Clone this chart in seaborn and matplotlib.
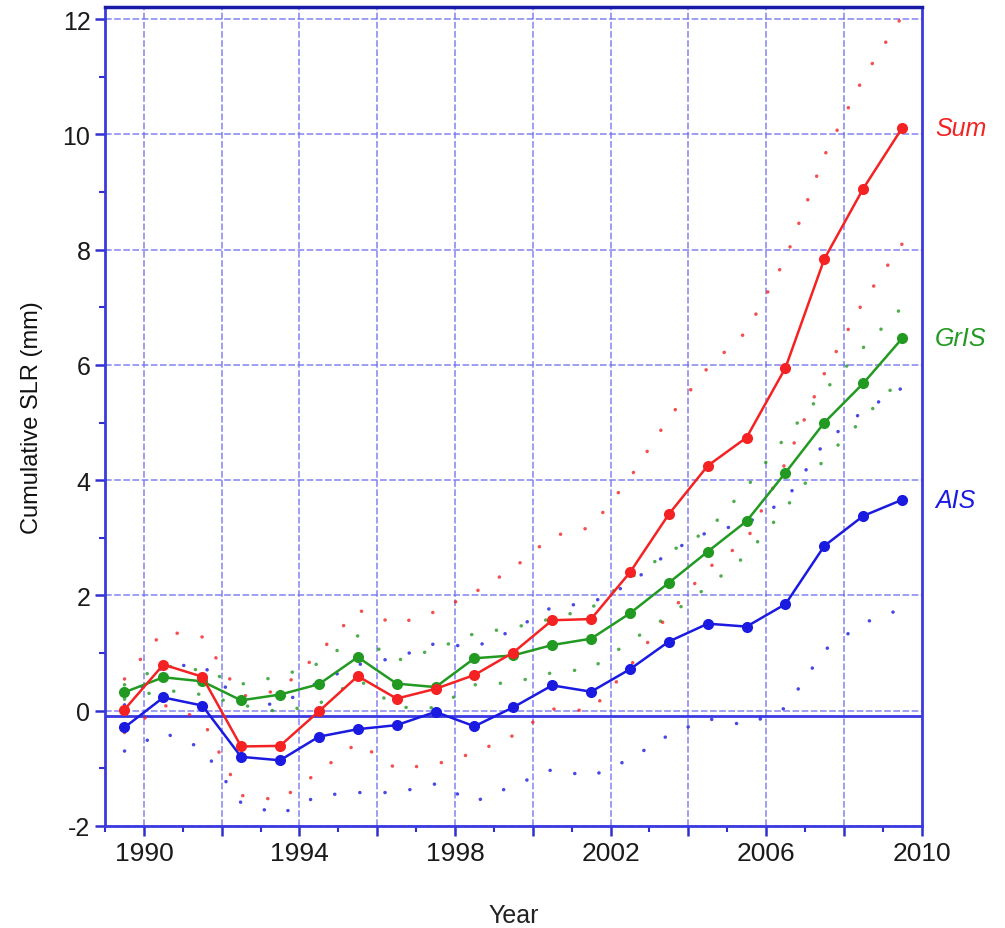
import matplotlib
matplotlib.use("Agg")
import matplotlib.pyplot as plt
from matplotlib.ticker import MultipleLocator, FixedLocator
import seaborn as sns
import pandas as pd

years = [1989.5, 1990.5, 1991.5, 1992.5, 1993.5, 1994.5, 1995.5, 1996.5, 1997.5, 1998.5,
         1999.5, 2000.5, 2001.5, 2002.5, 2003.5, 2004.5, 2005.5, 2006.5, 2007.5, 2008.5, 2009.5]

sum_vals = [0.02, 0.80, 0.59, -0.62, -0.61, -0.01, 0.60, 0.21, 0.38, 0.62, 1.01,
            1.57, 1.59, 2.40, 3.41, 4.25, 4.74, 5.95, 7.84, 9.06, 10.11]
gris_vals = [0.32, 0.58, 0.51, 0.18, 0.28, 0.46, 0.93, 0.47, 0.41, 0.91, 0.96,
             1.14, 1.25, 1.69, 2.22, 2.76, 3.29, 4.13, 5.00, 5.68, 6.46]
ais_vals = [-0.29, 0.23, 0.09, -0.80, -0.86, -0.45, -0.32, -0.25, -0.02, -0.27, 0.06,
            0.44, 0.33, 0.72, 1.20, 1.51, 1.46, 1.85, 2.86, 3.38, 3.66]

sum_upper = [0.55, 1.38, 1.28, 0.25, 0.35, 1.00, 1.75, 1.50, 1.72, 2.05, 2.47,
             3.03, 3.18, 4.04, 5.08, 5.95, 6.58, 7.84, 9.63, 10.98, 12.05]
sum_lower = [-0.38, 0.10, -0.15, -1.47, -1.55, -1.06, -0.55, -1.01, -0.93, -0.73, -0.43,
             0.03, 0.00, 0.77, 1.68, 2.47, 2.96, 4.30, 5.85, 7.10, 8.10]
gris_upper = [0.45, 0.78, 0.70, 0.46, 0.60, 0.82, 1.30, 0.87, 1.07, 1.34, 1.44,
              1.60, 1.78, 2.30, 2.75, 3.12, 3.88, 4.75, 5.55, 6.30, 7.00]
gris_lower = [0.20, 0.36, 0.28, 0.10, -0.02, 0.12, 0.55, 0.06, 0.05, 0.45, 0.49,
              0.66, 0.73, 1.20, 1.65, 2.15, 2.70, 3.52, 4.36, 5.07, 5.78]
ais_upper = [0.10, 0.78, 0.79, 0.15, 0.10, 0.50, 0.80, 0.92, 1.17, 1.10, 1.40,
             1.80, 1.87, 2.20, 2.75, 3.10, 3.25, 3.65, 4.65, 5.20, 5.60]
ais_lower = [-0.70, -0.38, -0.65, -1.60, -1.80, -1.47, -1.42, -1.42, -1.27, -1.58, -1.30,
             -1.02, -1.14, -0.84, -0.42, -0.14, -0.25, 0.05, 1.05, 1.52, 1.77]

series_names = ["Sum", "GrIS", "AIS"]
x_major_labels = [1990, 1994, 1998, 2002, 2006, 2010]
y_tick_values = [-2, 0, 2, 4, 6, 8, 10, 12]

sns.set_theme(style="white")
plt.rcParams['font.family'] = ['Liberation Sans', 'DejaVu Sans']

fig = plt.figure(figsize=(10.05, 9.29), dpi=100)
ax = fig.add_axes([0.1045, 0.1098, 0.8125, 0.8816])

colors = {"Sum": "#f42222", "GrIS": "#229a22", "AIS": "#1a1ae0"}
data = {
    "Sum": (sum_vals, sum_upper, sum_lower),
    "GrIS": (gris_vals, gris_upper, gris_lower),
    "AIS": (ais_vals, ais_upper, ais_lower),
}

# grid
grid_color = "#7070f0"
for gx in range(1990, 2010, 2):
    ax.axvline(gx, color=grid_color, lw=1.2, ls=(0, (4, 1.5)), alpha=0.8, zorder=0)
for gy in range(-2, 13, 2):
    ax.axhline(gy, color=grid_color, lw=1.2, ls=(0, (4, 1.5)), alpha=0.8, zorder=0)
ax.axhline(-0.1, color="#3a3ae0", lw=2.0, zorder=1)

for name in ["AIS", "GrIS", "Sum"]:
    vals, up, lo = data[name]
    c = colors[name]
    for bound in (up, lo):
        df_b = pd.DataFrame({"year": years, "v": bound})
        sns.lineplot(data=df_b, x="year", y="v", ax=ax, color=c, lw=2.5,
                     linestyle=(0, (0.05, 7.2)), dash_capstyle="round",
                     alpha=0.8, zorder=2)
for name in ["AIS", "GrIS", "Sum"]:
    vals, up, lo = data[name]
    c = colors[name]
    df = pd.DataFrame({"year": years, "v": vals})
    sns.lineplot(data=df, x="year", y="v", ax=ax, color=c, lw=1.8, marker="o",
                 markersize=8, markeredgewidth=0, zorder=3)

# labels at the right
ax.text(2010.35, sum_vals[-1], "Sum", color=colors["Sum"], fontsize=18, style="italic",
        va="center", ha="left", clip_on=False)
ax.text(2010.35, gris_vals[-1], "GrIS", color=colors["GrIS"], fontsize=18, style="italic",
        va="center", ha="left", clip_on=False)
ax.text(2010.35, ais_vals[-1], "AIS", color=colors["AIS"], fontsize=18, style="italic",
        va="center", ha="left", clip_on=False)

ax.set_xlim(1989.0, 2010.0)
ax.set_ylim(-2.0, 12.21)

ax.xaxis.set_major_locator(FixedLocator(list(range(1990, 2011, 2))))
ax.set_xticklabels([str(y) if y in x_major_labels else "" for y in range(1990, 2011, 2)])
ax.xaxis.set_minor_locator(MultipleLocator(1))
ax.set_yticks(y_tick_values)
ax.set_yticklabels([str(v) for v in y_tick_values])
ax.yaxis.set_minor_locator(MultipleLocator(1))

ax.tick_params(axis="both", which="major", direction="out", length=7, width=1.8,
               color="#3030d0", labelsize=18, labelcolor="#1a1a1a", bottom=True, left=True)
ax.tick_params(axis="both", which="minor", direction="out", length=4, width=1.5,
               color="#3030d0", bottom=True, left=True)
for lab in ax.get_xticklabels():
    lab.set_fontsize(19)

for side in ["left", "right", "bottom"]:
    ax.spines[side].set_color("#3a3ae0")
    ax.spines[side].set_linewidth(2.0)
ax.spines["top"].set_color("#1a1aa8")
ax.spines["top"].set_linewidth(2.5)

ax.set_xlabel("Year", fontsize=18, color="#222222", labelpad=28)
ax.set_ylabel("Cumulative SLR (mm)", fontsize=17, color="#111111", labelpad=14)

fig.savefig("out.png", dpi=100)
